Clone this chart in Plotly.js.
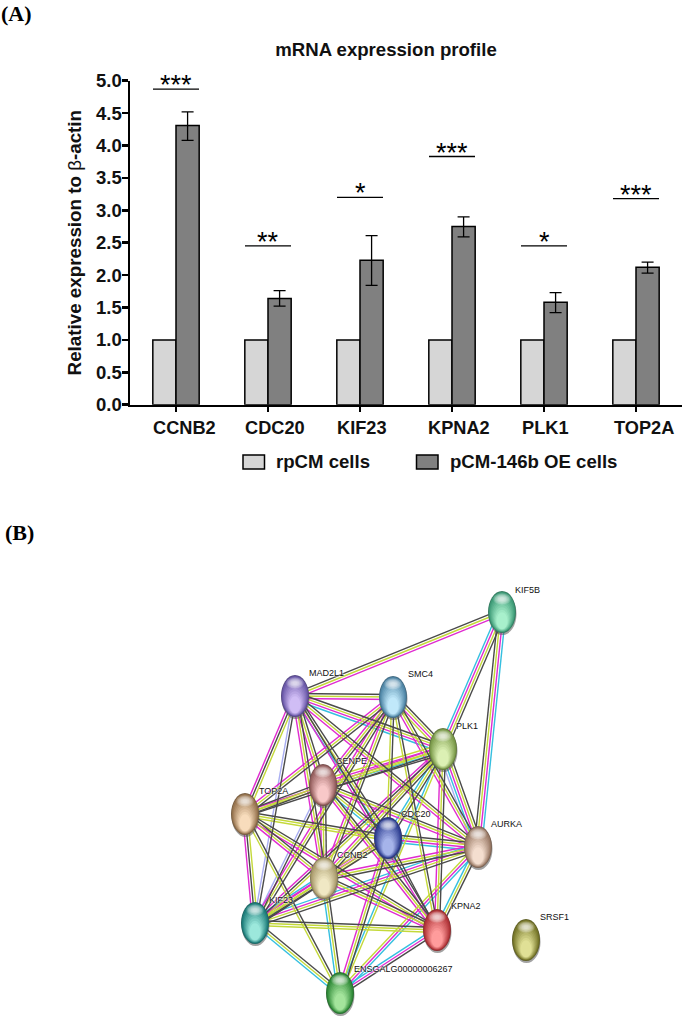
<!DOCTYPE html>
<html><head><meta charset="utf-8">
<script src="https://cdn.plot.ly/plotly-3.0.1.min.js"></script>
<style>html,body{margin:0;padding:0;background:#fff}</style></head>
<body><div id="chart" style="width:685px;height:1019px"></div>
<script>
// ---------- Panel A data ----------
const genes = ["CCNB2","CDC20","KIF23","KPNA2","PLK1","TOP2A"];
const rpCM = [1,1,1,1,1,1];
const oe = [4.31,1.64,2.23,2.75,1.58,2.12];
const oeErrUp = [0.21,0.12,0.38,0.15,0.15,0.08];
const oeErrDown = [0.23,0.12,0.39,0.16,0.16,0.09];
const sigLevel = [4.87,2.45,3.2,3.83,2.45,3.18];
const sigStars = ["***","**","*","***","*","***"];
const geneLabelShift = [8,7,2,7,1,8];

// ---------- Panel B data (network, image coordinates) ----------
const nodeNames = ["KIF5B","MAD2L1","SMC4","PLK1","CENPE","TOP2A","CDC20","AURKA","CCNB2","KIF23","KPNA2","SRSF1","ENSGALG00000006267"];
const nodeX = [502,295,393,443,323,245,388,478,324,255,437,526,340];
const nodeY = [612,696,697,749,785,814,838,847,878,923,930,940,993];
const labelX = [513,307,406,454,334,257,399,489,335,267,449,538,352];
const labelY = [590,673,674,726,761,791,814,824,855,900,906,917,969];
const nodeDark = ["#3f9c78","#6a58a8","#4f86a6","#7b9a4a","#96605f","#97744f","#2f3f92","#9a7a66","#a99a6c","#1f7f7c","#b03438","#77772a","#2f8a38"];
const nodeLight = ["#a8f0cc","#d0bdf5","#c0e8fa","#dcf0b4","#f8c8c8","#f8dcbc","#a6b4ea","#f4decf","#f0e8c4","#9ce8dc","#ff9c9c","#e0e096","#a4e49c"];
const edges = [
 ["MAD2L1","KIF5B","kym"],["PLK1","KIF5B","cmyk"],["AURKA","KIF5B","kymc"],
 ["MAD2L1","SMC4","kym"],["MAD2L1","PLK1","kymc"],["MAD2L1","CENPE","kym"],["MAD2L1","TOP2A","ykm"],
 ["MAD2L1","CDC20","kyc"],["MAD2L1","AURKA","kym"],["MAD2L1","CCNB2","kym"],["MAD2L1","KIF23","kb"],["MAD2L1","KPNA2","km"],
 ["SMC4","PLK1","kymy"],["SMC4","CENPE","kym"],["SMC4","TOP2A","kym"],["SMC4","CDC20","ky"],["SMC4","AURKA","kym"],
 ["SMC4","CCNB2","kym"],["SMC4","KIF23","kym"],["SMC4","KPNA2","ky"],
 ["PLK1","CENPE","kcymy"],["PLK1","TOP2A","kym"],["PLK1","CDC20","kyc"],["PLK1","AURKA","kymcb"],["PLK1","CCNB2","kym"],
 ["PLK1","KIF23","ykm"],["PLK1","KPNA2","kym"],["PLK1","ENSGALG00000006267","yc"],
 ["CENPE","TOP2A","kyk"],["CENPE","CDC20","kyc"],["CENPE","AURKA","kym"],["CENPE","CCNB2","kym"],["CENPE","KIF23","kb"],["CENPE","KPNA2","kym"],
 ["TOP2A","CDC20","kyy"],["TOP2A","CCNB2","kym"],["TOP2A","KIF23","ykm"],["TOP2A","KPNA2","kym"],["TOP2A","ENSGALG00000006267","ky"],
 ["CDC20","AURKA","kymc"],["CDC20","CCNB2","ymy"],["CDC20","KIF23","kym"],["CDC20","KPNA2","k"],["CDC20","ENSGALG00000006267","kym"],
 ["AURKA","CCNB2","kym"],["AURKA","KIF23","kymc"],["AURKA","KPNA2","kyc"],["AURKA","ENSGALG00000006267","cmy"],
 ["CCNB2","KIF23","kymc"],["CCNB2","KPNA2","kym"],["CCNB2","ENSGALG00000006267","kyc"],
 ["KIF23","KPNA2","kyy"],["KIF23","ENSGALG00000006267","kyc"],["KPNA2","ENSGALG00000006267","kmc"]
];

// ---------- Build ----------
const W = 685, H = 1019;
const idx = genes.map((_, i) => i);
const serif = "Liberation Serif", sans = "Liberation Sans";

const traces = [
 {type:"bar", name:"rpCM cells", x:idx, y:rpCM, xaxis:"x", yaxis:"y",
  marker:{color:"#d6d6d6", line:{color:"#000", width:1.5}}, showlegend:false},
 {type:"bar", name:"pCM-146b OE cells", x:idx, y:oe, xaxis:"x", yaxis:"y",
  marker:{color:"#808080", line:{color:"#000", width:1.5}}, showlegend:false,
  error_y:{type:"data", symmetric:false, array:oeErrUp, arrayminus:oeErrDown, color:"#000", thickness:1.3, width:6}}
];

// network edges, one trace per evidence colour
const edgeColors = {b:"#a9aef2", c:"#35bfe0", m:"#e02bd0", y:"#c4d93a", k:"#4a4a4a"};
const edgeStep = 2.5;
Object.keys(edgeColors).forEach(ch => {
  const xs = [], ys = [];
  edges.forEach(([a,b,chs]) => {
    const ia = nodeNames.indexOf(a), ib = nodeNames.indexOf(b);
    const dx = nodeX[ib]-nodeX[ia], dy = nodeY[ib]-nodeY[ia], len = Math.hypot(dx,dy);
    const nx = -dy/len, ny = dx/len;
    [...chs].forEach((c,i) => {
      if (c !== ch) return;
      const off = (i-(chs.length-1)/2)*edgeStep;
      xs.push(nodeX[ia]+nx*off, nodeX[ib]+nx*off, null);
      ys.push(nodeY[ia]+ny*off, nodeY[ib]+ny*off, null);
    });
  });
  traces.push({type:"scatter", mode:"lines", x:xs, y:ys, xaxis:"x2", yaxis:"y2",
    line:{color:edgeColors[ch], width:1.4}, hoverinfo:"skip", showlegend:false, connectgaps:false});
});

function hexMix(a,b,t){
  const p = h => [1,3,5].map(i => parseInt(h.substr(i,2),16));
  const A = p(a), B = p(b);
  return "rgb("+A.map((v,i)=>Math.round(v+(B[i]-v)*t)).join(",")+")";
}

const shapes = [];
// significance bars
idx.forEach(i => shapes.push({type:"line", xref:"x", yref:"y", x0:i-0.25, x1:i+0.25, y0:sigLevel[i], y1:sigLevel[i], line:{color:"#000", width:1.3}}));
// legend swatches
[[243,264.5,"#d6d6d6"],[416.5,438,"#808080"]].forEach(s => shapes.push({type:"rect", xref:"paper", yref:"paper",
  x0:s[0]/W, x1:s[1]/W, y0:1-469/H, y1:1-455/H, fillcolor:s[2], line:{color:"#000", width:1.5}}));
// nodes: stacked ellipses give the glassy ball
const rx = 14, ry = 21;
const ell = (cx,cy,a,b,fill,op) => shapes.push({type:"circle", xref:"x2", yref:"y2", layer:"above",
   x0:cx-a, x1:cx+a, y0:cy-b, y1:cy+b, fillcolor:fill, opacity:op===undefined?1:op, line:{width:0}});
nodeNames.forEach((n,i) => {
  const cx = nodeX[i], cy = nodeY[i], dk = nodeDark[i], lt = nodeLight[i];
  ell(cx+0.5, cy+2, rx, ry, "#555", 0.55);
  ell(cx, cy, rx, ry, hexMix(dk,"#222222",0.25));
  const steps = 12;
  for (let s=0; s<steps; s++){
    const t = s/(steps-1), k = 1-0.8*t;
    ell(cx, cy+ (ry-1)*(1-k)*0.75, (rx-1)*k, (ry-1)*k, hexMix(dk,lt,Math.min(1,t*1.4)));
  }
  for (let s=0; s<5; s++){
    const k = 1-s*0.17;
    ell(cx, cy-ry*0.62, rx*0.62*k, ry*0.27*k, "#ffffff", 0.22);
  }
});

const annotations = [];
const ann = (o) => annotations.push(Object.assign({showarrow:false, xanchor:"center", yanchor:"middle"}, o));
// panel letters
ann({xref:"paper", yref:"paper", x:-1/W, y:1-14/H, xanchor:"left", text:"<b>(A)</b>", font:{family:serif, size:22, color:"#000"}});
ann({xref:"paper", yref:"paper", x:3/W, y:1-532/H, xanchor:"left", text:"<b>(B)</b>", font:{family:serif, size:22, color:"#000"}});
// gene labels
genes.forEach((g,i) => ann({xref:"x", yref:"paper", x:i, xshift:geneLabelShift[i], y:1-428/H, text:"<b>"+g+"</b>", font:{family:sans, size:18.2, color:"#111"}}));
// stars
idx.forEach(i => ann({xref:"x", yref:"y", x:i, y:sigLevel[i], yanchor:"bottom", yshift:-13, text:sigStars[i], font:{family:sans, size:27, color:"#000"}}));
// legend text
ann({xref:"paper", yref:"paper", x:274/W, y:1-462/H, xanchor:"left", text:"<b>rpCM cells</b>", font:{family:sans, size:18.6, color:"#111"}});
ann({xref:"paper", yref:"paper", x:448/W, y:1-462/H, xanchor:"left", text:"<b>pCM-146b OE cells</b>", font:{family:sans, size:18.6, color:"#111"}});
// node labels
nodeNames.forEach((n,i) => ann({xref:"x2", yref:"y2", x:labelX[i], y:labelY[i], xanchor:"left", text:n,
   font:{family:sans, size:9, color:"#111", shadow:"0 0 2px #fff, 0 0 2px #fff"}}));

const layout = {
  width:W, height:H, autosize:false, margin:{l:0,r:0,t:0,b:0},
  paper_bgcolor:"#fff", plot_bgcolor:"rgba(0,0,0,0)",
  showlegend:false, barmode:"group", bargap:0.496, bargroupgap:0,
  title:{text:"<b>mRNA expression profile</b>", x:386/W, y:1-49/H, xref:"paper", yref:"paper", xanchor:"center", yanchor:"middle",
         font:{family:sans, size:18.6, color:"#111"}},
  xaxis:{domain:[130/W,682/W], range:[-0.5,5.5], anchor:"y", tickvals:idx, showticklabels:false,
         ticks:"outside", ticklen:5, tickwidth:1.5, tickcolor:"#000", showline:true, linecolor:"#000", linewidth:2.5,
         showgrid:false, zeroline:false, fixedrange:true},
  yaxis:{domain:[1-404.7/H,1-80.7/H], range:[0,5], anchor:"x", dtick:0.5, tick0:0, tickformat:".1f",
         ticks:"outside", ticklen:6, ticklabelstandoff:-4, tickwidth:2.5, tickcolor:"#000", showline:true, linecolor:"#000", linewidth:2.5,
         showgrid:false, zeroline:false, fixedrange:true,
         tickfont:{family:sans, size:18.5, weight:"bold", color:"#111"},
         title:{text:"<b>Relative expression to </b>β<b>-actin</b>", standoff:10, font:{family:sans, size:18.8, color:"#111"}}},
  xaxis2:{domain:[0,1], range:[0,W], anchor:"y2", visible:false, fixedrange:true},
  yaxis2:{domain:[0,1], range:[H,0], anchor:"x2", visible:false, fixedrange:true},
  shapes, annotations
};
Plotly.newPlot("chart", traces, layout, {displayModeBar:false, staticPlot:true});
</script></body></html>
